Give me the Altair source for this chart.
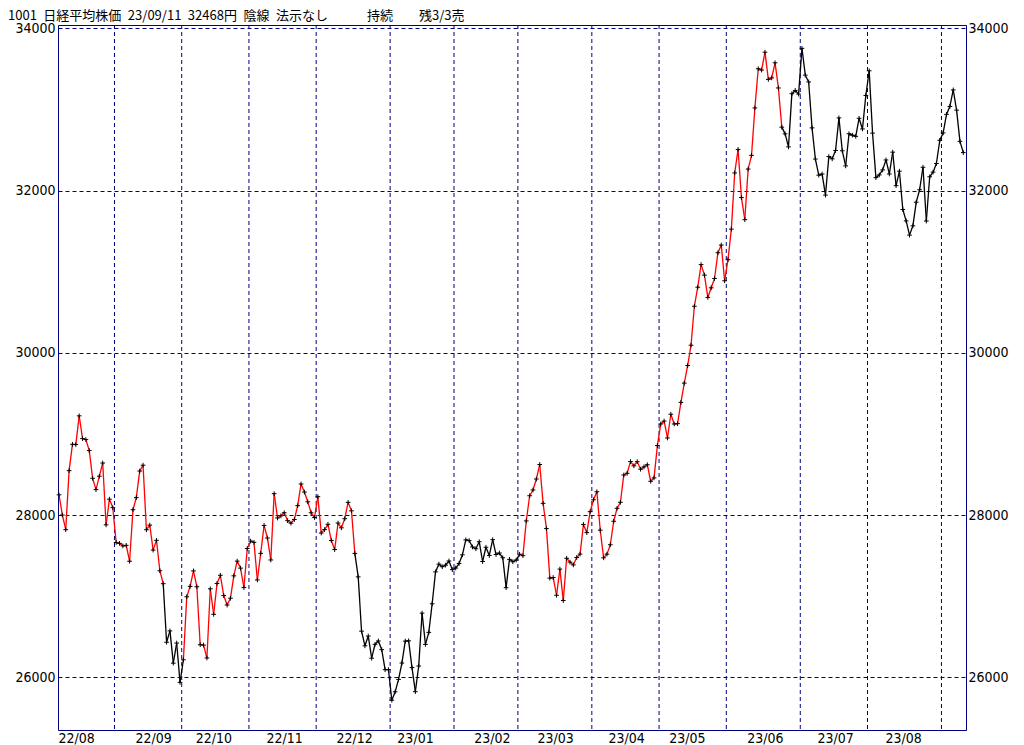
import altair as alt
import pandas as pd

# ---------------- data ----------------
title_text = "1001\u2002日経平均株価\u200223/09/11\u200232468円\u2002陰線\u2002法示なし　　　持続　　残3/3売"

# daily closes, 2022/08/08 .. 2023/09/11 (trading-day index 0..269)
closes = [
    28249.24, 27999.96, 27819.33, 28546.98, 28871.78, 28868.91, 29222.77, 28942.14, 28930.33, 28794.50,
    28452.75, 28313.47, 28479.01, 28641.38, 27878.96, 28195.58, 28091.53,
    27661.47, 27650.84, 27619.61, 27626.51, 27430.30, 28065.28, 28214.75, 28542.11, 28614.63, 27818.62,
    27875.91, 27567.65, 27688.42, 27313.13, 27153.83, 26431.55, 26571.87, 26173.98, 26422.05, 25937.21,
    26215.79, 26992.21, 27120.53, 27311.30, 27116.11, 26401.25, 26397.01, 26237.42, 27090.76, 26775.79,
    27156.14, 27257.38, 27006.96, 26890.58, 26974.90, 27250.28, 27431.84, 27345.24, 27105.20, 27587.46,
    27678.92, 27663.39, 27199.74, 27527.64, 27872.11, 27716.43, 27446.10, 28263.57, 27963.47, 27990.17,
    28028.30, 27930.57, 27899.77, 27944.79, 28115.74, 28383.09, 28283.03, 28162.83, 28027.84, 27968.99,
    28226.08, 27777.90, 27820.40, 27885.87, 27686.40, 27574.43, 27901.01, 27842.33, 27954.85, 28156.21,
    28051.70, 27527.12, 27237.64, 26568.03, 26387.72, 26507.87, 26235.25, 26405.87, 26447.87, 26340.50,
    26093.67, 26094.50,
    25716.86, 25820.80, 25973.85, 26175.56, 26446.00, 26449.61, 26119.52, 25822.32, 26138.68, 26791.12,
    26405.23, 26553.53, 26906.04, 27299.19, 27395.01, 27362.75, 27382.56, 27433.40, 27327.11,
    27346.88, 27402.05, 27509.46, 27693.65, 27685.47, 27606.46, 27584.35, 27670.98, 27427.32, 27602.77,
    27501.86, 27696.44, 27513.13, 27531.94, 27473.10, 27104.32, 27453.48, 27423.96, 27445.56,
    27516.53, 27498.87, 27927.47, 28237.78, 28309.16, 28444.19, 28623.15, 28143.97, 27832.96, 27222.04,
    27229.48, 27010.61, 27333.79, 26945.67, 27466.61, 27419.61, 27385.25, 27476.87, 27518.25, 27883.78,
    27782.93, 28041.48,
    28188.15, 28287.42, 27813.26, 27472.63, 27518.31, 27633.66, 27923.37, 28082.70, 28156.97, 28493.47,
    28514.78, 28658.83, 28606.76, 28657.57, 28564.37, 28593.52, 28620.07, 28416.47, 28457.68, 28856.44,
    29123.18, 29157.95, 28949.88, 29242.82, 29122.18, 29126.72, 29388.30, 29626.34, 29842.99, 30093.59,
    30573.93, 30808.35, 31086.82, 30957.77, 30682.68, 30801.13, 30916.31, 31233.54, 31328.16, 30887.88,
    31148.01, 31524.22, 32217.43, 32506.78, 31913.74, 31641.27, 32265.17, 32434.00, 33018.65, 33502.42,
    33485.49, 33706.08, 33370.42, 33388.91, 33575.14, 33264.88, 32781.54, 32698.81, 32538.33, 33193.99,
    33234.14, 33189.04,
    33753.33, 33422.52, 33338.70, 32773.02, 32388.42, 32189.73, 32203.57, 31943.93, 32419.33, 32391.26,
    32493.89, 32896.03, 32490.52, 32304.25, 32700.69, 32682.51, 32668.34, 32891.16, 32759.23, 33172.22,
    33476.58, 32707.69, 32159.28, 32192.75, 32254.56, 32377.29, 32204.33, 32473.65, 32059.91, 32238.89,
    31766.82, 31626.00, 31450.76, 31565.64, 31856.71, 32010.26, 32287.21, 31624.28, 32169.99, 32226.97,
    32333.46, 32619.34,
    32710.62, 32939.18, 33036.76, 33241.02, 32991.08, 32606.84, 32467.76,
]

# trend state of each segment between consecutive closes (run lengths)
seg_runs = [("up", 31), ("down", 6), ("up", 51), ("down", 49), ("up", 78), ("down", 54)]

# first trading-day index of each month (month boundaries)
month_start_idx = [17, 37, 57, 77, 99, 118, 137, 159, 179, 199, 221, 241, 263]

month_labels = ["22/08", "22/09", "22/10", "22/11", "22/12", "23/01", "23/02",
                "23/03", "23/04", "23/05", "23/06", "23/07", "23/08"]
month_label_idx = [-0.3, 22.6, 40.5, 61.6, 82.4, 100.5, 123.4, 142.2, 163.3, 181.4, 204.6, 225.5, 245.7]

y_ticks = [26000, 28000, 30000, 32000, 34000]

# ---------------- tables ----------------
states = [s for s, n in seg_runs for _ in range(n)]
n = len(closes)
seg_df = pd.DataFrame({
    "i": list(range(n - 1)),
    "v": closes[:-1],
    "i2": list(range(1, n)),
    "v2": closes[1:],
    "state": states,
})
pts_df = pd.DataFrame({"i": list(range(n)), "v": closes})
grid_df = pd.DataFrame({"g": [m - 0.5 for m in month_start_idx]})
title_df = pd.DataFrame({"t": [title_text]})

NAVY = "#000080"
NUM_FONT = "Liberation Sans Narrow, DejaVu Sans Condensed, Arial Narrow, sans-serif"
JP_FONT = "Noto Sans CJK JP, sans-serif"

xs = alt.Scale(domain=[-0.3, 269.8], nice=False, zero=False)
ys = alt.Scale(domain=[25350, 34041], nice=False, zero=False)

label_expr = "[" + ",".join(f"'{l}'" for l in month_labels) + "][indexof([" + \
    ",".join(str(v) for v in month_label_idx) + "], datum.value)]"

bottom_axis = alt.Axis(
    orient="bottom", values=month_label_idx, labelExpr=label_expr, labelAlign="left",
    labelBaseline="top", labelPadding=1, ticks=False, domain=True, domainColor=NAVY,
    domainWidth=1, domainOpacity=1, grid=False, labelFont=NUM_FONT, labelFontSize=14,
    labelColor="black", title=None, labelOverlap=False, labelFlush=False, labelBound=False)
top_axis = alt.Axis(orient="top", labels=False, ticks=False, domain=True, domainColor=NAVY,
                    domainWidth=1, grid=False, title=None)
left_axis = alt.Axis(
    orient="left", values=y_ticks, format="d", grid=True, gridColor=NAVY, gridDash=[4, 3],
    gridOpacity=1, gridWidth=1, domain=True, domainColor=NAVY, domainWidth=1, ticks=False,
    labelFont=NUM_FONT, labelFontSize=14, labelColor="black", labelPadding=3, title=None,
    labelFlush=False)
right_axis = alt.Axis(
    orient="right", values=y_ticks, format="d", grid=False, domain=True, domainColor=NAVY,
    domainWidth=1, ticks=False, labelFont=NUM_FONT, labelFontSize=14, labelColor="black",
    labelPadding=2, title=None, labelFlush=False)

vgrid = alt.Chart(grid_df).mark_rule(color=NAVY, strokeDash=[4, 3], strokeWidth=1).encode(
    x=alt.X("g:Q", scale=xs, axis=None)
)

segs = alt.Chart(seg_df).mark_rule(strokeWidth=1.3).encode(
    x=alt.X("i:Q", scale=xs, axis=bottom_axis),
    x2="i2:Q",
    y=alt.Y("v:Q", scale=ys, axis=left_axis),
    y2="v2:Q",
    color=alt.Color("state:N", scale=alt.Scale(domain=["up", "down"], range=["#ff0000", "#000000"]),
                    legend=None),
)

pts = alt.Chart(pts_df).mark_point(
    shape="M-1,0H1M0,-1V1", size=22, filled=False, color="black", strokeWidth=1, opacity=1
).encode(
    x=alt.X("i:Q", scale=xs, axis=top_axis),
    y=alt.Y("v:Q", scale=ys, axis=right_axis),
)

title = alt.Chart(title_df).mark_text(
    align="left", baseline="top", font=JP_FONT, fontSize=13, color="black"
).encode(text="t:N", x=alt.value(-50), y=alt.value(-15))

chart = alt.layer(vgrid, segs, pts, title).resolve_axis(y="independent", x="independent").properties(
    width=908, height=705,
    autosize=alt.AutoSizeParams(type="none"),
    padding={"left": 50, "top": 17, "right": 50, "bottom": 15},
).configure_view(stroke=None).configure(background="white")

chart.save("out.html", embed_options={"renderer": "svg", "actions": False})
